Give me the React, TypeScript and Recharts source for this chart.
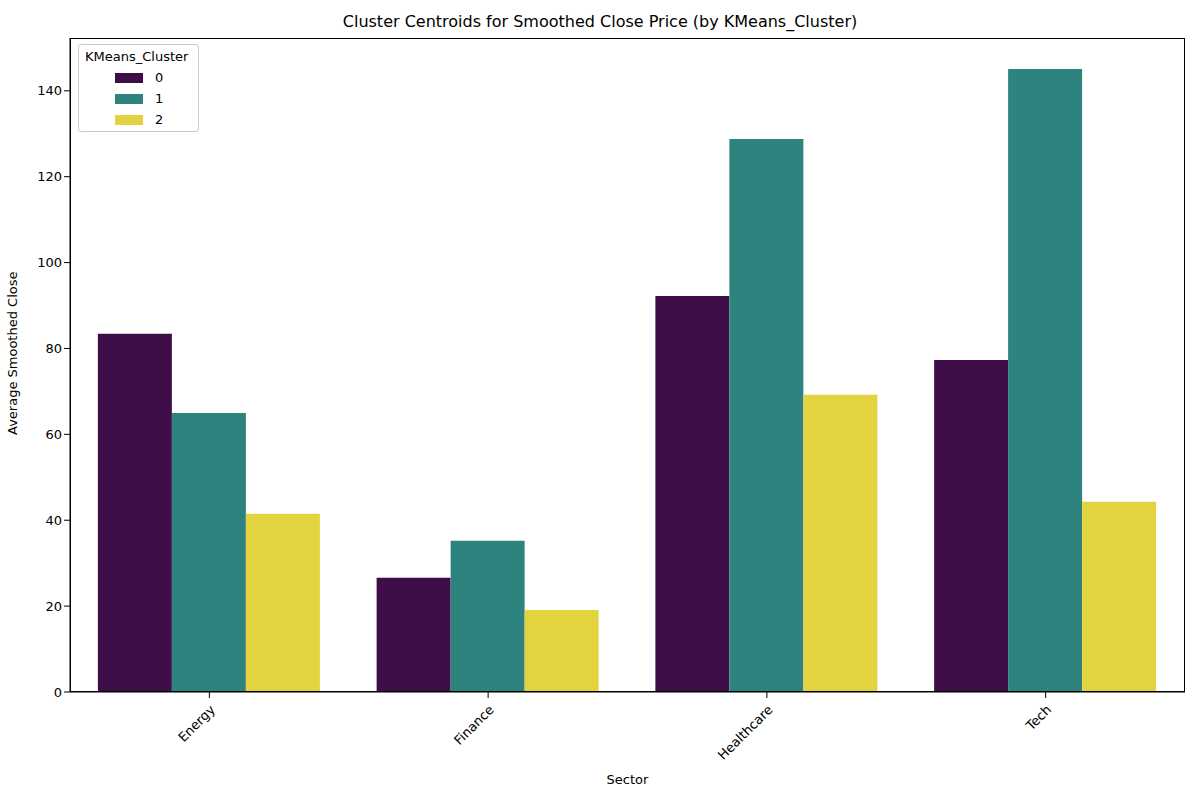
import { BarChart, Bar, XAxis, YAxis } from 'recharts';

const sectors = ['Energy', 'Finance', 'Healthcare', 'Tech'];
const cluster0 = [83.4, 26.6, 92.2, 77.3];
const cluster1 = [65.0, 35.2, 128.8, 145.1];
const cluster2 = [41.5, 19.1, 69.2, 44.3];
const yTicks = [0, 20, 40, 60, 80, 100, 120, 140];

const colors = ['#3f0d48', '#2e837f', '#e2d33f'];

const data = sectors.map((s, i) => ({ sector: s, c0: cluster0[i], c1: cluster1[i], c2: cluster2[i] }));

const font = 'DejaVu Sans, sans-serif';

export default function App() {
  return (
    <div style={{ position: 'absolute', left: 0, top: 0, width: 1200, height: 800, background: '#fff', fontFamily: font }}>
      <div style={{ position: 'absolute', top: 12, width: 1200, textAlign: 'center', fontSize: 16, color: '#000' }}>
        Cluster Centroids for Smoothed Close Price (by KMeans_Cluster)
      </div>
      <BarChart
        width={1200}
        height={800}
        data={data}
        margin={{ top: 38, right: 15, left: 0, bottom: 0 }}
        barCategoryGap="10%"
        barGap={0}
      >
        <XAxis
          dataKey="sector"
          height={108}
          tickLine={{ stroke: '#000' }}
          axisLine={{ stroke: '#000' }}
          interval={0}
          tick={{ fontSize: 13, fill: '#000', fontFamily: font, angle: -45, textAnchor: 'end', dy: 4 }}
          label={{ value: 'Sector', position: 'insideBottom', offset: 16, fontSize: 13, fill: '#000', fontFamily: font }}
        />
        <YAxis
          width={70}
          domain={[0, 152.3]}
          ticks={yTicks}
          allowDataOverflow
          tickLine={{ stroke: '#000' }}
          axisLine={{ stroke: '#000' }}
          tick={{ fontSize: 13, fill: '#000', fontFamily: font }}
          label={{ value: 'Average Smoothed Close', angle: -90, position: 'insideLeft', offset: 12, dy: 70, fontSize: 13, fill: '#000', fontFamily: font }}
        />
        <Bar dataKey="c0" fill={colors[0]} isAnimationActive={false} />
        <Bar dataKey="c1" fill={colors[1]} isAnimationActive={false} />
        <Bar dataKey="c2" fill={colors[2]} isAnimationActive={false} />
      </BarChart>
      <div style={{ position: 'absolute', left: 70, top: 38, width: 1115, height: 654, border: '1px solid #000', boxSizing: 'border-box', pointerEvents: 'none' }} />
      <div style={{ position: 'absolute', left: 78, top: 44, width: 121, height: 88, border: '1px solid #ccc', borderRadius: 3, background: 'rgba(255,255,255,0.8)', boxSizing: 'border-box', fontSize: 13 }}>
        <div style={{ position: 'absolute', left: 6, top: 4 }}>KMeans_Cluster</div>
        {['0', '1', '2'].map((c, i) => (
          <div key={c} style={{ position: 'absolute', left: 36, top: 25 + i * 21, display: 'flex', alignItems: 'center' }}>
            <div style={{ width: 28, height: 10, background: colors[i], marginRight: 12 }} />
            <span>{c}</span>
          </div>
        ))}
      </div>
    </div>
  );
}
